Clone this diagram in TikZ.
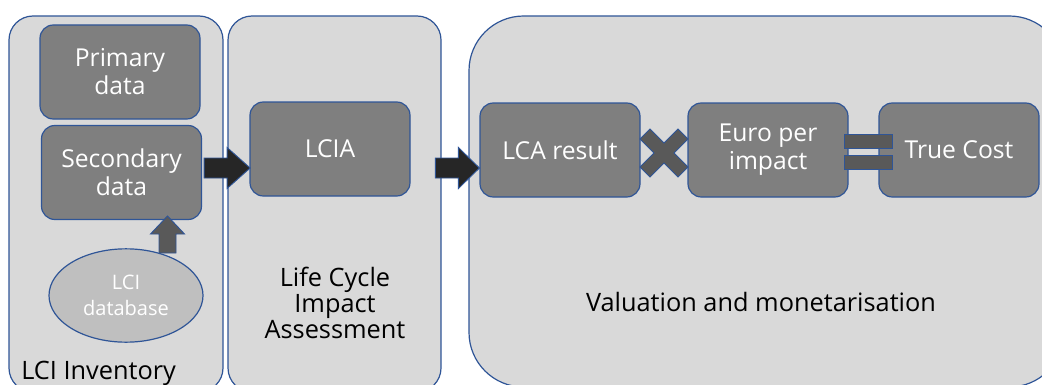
\documentclass[tikz,border=0pt]{standalone}
\usepackage{fontspec}
\setmainfont{Open Sans}
\usetikzlibrary{shapes.geometric,calc}

\definecolor{panelgray}{HTML}{D9D9D9}
\definecolor{boxgray}{HTML}{7F7F7F}
\definecolor{opgray}{HTML}{595959}
\definecolor{arrowblack}{HTML}{262626}
\definecolor{dbgray}{HTML}{BFBFBF}
\definecolor{edgeblue}{HTML}{2F5597}

\begin{document}
\begin{tikzpicture}[x=0.75pt,y=0.75pt,yscale=-1,xscale=1,
    panel/.style={draw=edgeblue, fill=panelgray, line width=0.9pt},
    databox/.style={draw=edgeblue, fill=boxgray, rounded corners=10pt, line width=0.9pt,
        minimum width=120pt, minimum height=70.5pt, inner sep=2pt,
        text=white, align=center, font=\fontsize{18.5}{21}\selectfont},
    dbellipse/.style={ellipse, draw=edgeblue, fill=dbgray, line width=0.9pt,
        minimum width=115.5pt, minimum height=70pt, inner sep=0pt,
        text=white, align=center, font=\fontsize{15}{19}\selectfont},
    flowarrow/.style={draw=edgeblue, fill=arrowblack, line width=0.7pt},
    opshape/.style={draw=edgeblue, fill=opgray, line width=0.7pt},
    panellabel/.style={inner sep=0.75pt, align=center, text=black, font=\fontsize{19}{19.5}\selectfont}]
    \useasboundingbox (0,0) rectangle (1042,385);
    \clip (0,0) rectangle (1042,385);

    %Shape: Rounded Rect [inventory panel]
    \draw[panel, rounded corners=18pt] (9,16) rectangle (223,392);
    %Shape: Rounded Rect [impact panel]
    \draw[panel, rounded corners=18pt] (228,16) rectangle (441,392);
    %Shape: Rounded Rect [valuation panel]
    \draw[panel, rounded corners=41pt] (469,16) rectangle (1064,387);

    % Boxes
    \node[databox] (primary) at (120,72) {Primary\\data};
    \node[databox] (secondary) at (121.5,172.5) {Secondary\\data};
    \node[databox] (lcia) at (330,149) {LCIA};
    \node[databox] (lcaresult) at (560,150) {LCA result};
    \node[databox] (europer) at (768,150) {Euro per\\impact};
    \node[databox] (truecost) at (959,150) {True Cost};
    \node[dbellipse] (lcidb) at (126,295.5) {LCI\\database};

    %Shape: Right Arrow
    \coordinate (toimpact) at ($(secondary.east)+(2,-4.5)$);
    \draw[flowarrow] (toimpact) ++(0,-10) -- ++(23,0) -- ++(0,-10.5) -- ++(23,20.5)
        -- ++(-23,20.5) -- ++(0,-10.5) -- ++(-23,0) -- cycle;
    %Shape: Right Arrow
    \coordinate (tovaluation) at ($(lcaresult.west)+(-44,18)$);
    \draw[flowarrow] (tovaluation) ++(0,-10) -- ++(23,0) -- ++(0,-10.5) -- ++(21,20.5)
        -- ++(-21,20.5) -- ++(0,-10.5) -- ++(-23,0) -- cycle;
    %Shape: Up Arrow
    \coordinate (fromdb) at (167.5,253);
    \draw[opshape] (fromdb) ++(-8.5,0) -- ++(0,-19) -- ++(-8.5,0) -- ++(17,-18)
        -- ++(17,18) -- ++(-8.5,0) -- ++(0,19) -- cycle;

    %Shape: Cross
    \coordinate (times) at ($(lcaresult.east)!0.5!(europer.west)+(0,3)$);
    \draw[opshape] (times) ++(-24,-14) -- ++(10,-10) -- ++(14,14) -- ++(14,-14) -- ++(10,10)
        -- ++(-14,14) -- ++(14,14) -- ++(-10,10) -- ++(-14,-14) -- ++(-14,14)
        -- ++(-10,-10) -- ++(14,-14) -- cycle;
    %Shape: Equal
    \node[opshape, minimum width=36pt, minimum height=10.5pt, inner sep=0pt] (eqtop) at (868,141) {};
    \node[opshape, minimum width=36pt, minimum height=10.5pt, inner sep=0pt] (eqbot) at (868,162) {};

    % Text Node
    \node[panellabel, anchor=west] (lcilabel) at (20,373) {LCI Inventory};
    % Text Node
    \node[panellabel] (lcialabel) at (335,303) {Life Cycle\\Impact\\Assessment};
    % Text Node
    \node[panellabel] (vallabel) at (761,302) {Valuation and monetarisation};

\end{tikzpicture}
\end{document}
